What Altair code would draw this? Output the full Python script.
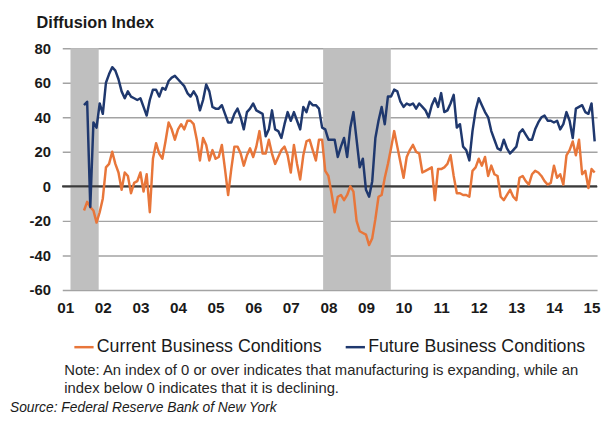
import altair as alt
import pandas as pd

# ---- data (monthly, Jul 2001 - Feb 2015) ----
first_month = "2001-07"
current = [
    -14, -9, -12, -14, -21, -15,
    -7, 11, 13, 20, 13, 8, -2, 8, 6, -4, 2, 3,
    8, -3, 7, -15, 16, 25, 19, 16, 26, 37, 33, 27,
    33, 36, 33, 38, 38, 36, 27, 15, 28, 24, 15, 21,
    16, 17, 24, 10, -5, 10, 23, 23, 19, 12, 18, 22,
    17, 23, 32, 19, 19, 27, 19, 13, 17, 21, 23, 18,
    8, 24, 13, 4, 18, 26, 27, 21, 15, 27, 27, 9,
    6, -4, -15, -6, -5, -8, -5, 0, -3, -20, -26, -27,
    -28, -34, -30, -19, -6, -5, 5, 13, 22, 32, 23, 14,
    5, 17, 21, 24, 20, 19, 8, 9, 10, 11, -8, 10,
    10, 11, 13, 18, 6, -4, -4, -5, -5, -6, 9, 11,
    16, 12, 17, 6, 12, 7, 6, -6, -8, -5, -2, -6,
    -8, 5, 6, 3, 1, 7, 9, 8, 6, 3, 1, 2,
    12, 5, 7, 1, 18, 21, 26, 18, 27, 7, 9, -1,
    10, 8,
]
future = [
    47, 49, -12, 37, 34, 48,
    42, 60, 65, 69, 67, 62, 55, 51, 55, 52, 51, 50,
    51, 46, 41, 50, 56, 56, 52, 57, 56, 61, 63, 64,
    62, 60, 58, 54, 52, 55, 52, 44, 50, 59, 55, 46,
    45, 45, 47, 42, 37, 37, 42, 45, 40, 33, 43, 45,
    48, 44, 43, 42, 29, 33, 44, 33, 32, 28, 36, 43,
    38, 43, 38, 33, 46, 43, 49, 47, 47, 45, 34, 33,
    27, 27, 27, 17, 23, 28, 17, 34, 43, 27, 11, 16,
    -2, -6, 3, 28, 38, 46, 36, 52, 52, 56, 55, 49,
    46, 48, 47, 48, 45, 48, 46, 44, 40, 47, 51, 46,
    54, 43, 44, 48, 53, 34, 36, 23, 21, 15, 32, 44,
    51, 47, 43, 40, 32, 27, 22, 21, 27, 22, 19, 21,
    23, 31, 33, 30, 27, 27, 33, 37, 40, 41, 38, 38,
    37, 38, 33, 36, 43, 38, 28, 45, 46, 47, 43, 42,
    48, 26,
]
series_names = ["Current Business Conditions", "Future Business Conditions"]
series_colors = ["#E8763A", "#1F386E"]

# recessions (decimal years, as shaded in the reference)
recession_start = [2001.14, 2007.86]
recession_end = [2001.89, 2009.66]

year_ticks = list(range(2001, 2016))
y_ticks = [-60, -40, -20, 0, 20, 40, 60, 80]

title_text = "Diffusion Index"
note_lines = [
    "Note: An index of 0 or over indicates that manufacturing is expanding, while an",
    "index below 0 indicates that it is declining.",
]
source_text = "Source: Federal Reserve Bank of New York"

# ---- build tables ----
n = len(current)
months = pd.period_range(first_month, periods=n, freq="M")
t = [p.year + (p.month - 1) / 12 for p in months]
df = pd.DataFrame({
    "t": t + t,
    "value": current + future,
    "series": [series_names[0]] * n + [series_names[1]] * n,
})
rec = pd.DataFrame({"start": recession_start, "end": recession_end})

FONT = "Liberation Sans"
xscale = alt.Scale(domain=[2000.9213, 2015.147], nice=False, zero=False)
yscale = alt.Scale(domain=[-60, 80], nice=False, zero=False)
xaxis = alt.Axis(title=None, values=year_ticks, tickCount=40, format="d",
                 labelExpr="substring(datum.label, 2)",
                 labelFont=FONT, labelFontSize=15.5, labelFontWeight="bold",
                 labelColor="#1a1a1a", labelPadding=11, labelFlush=False,
                 labelOverlap=False, ticks=False, domain=False, grid=False)
yaxis = alt.Axis(title=None, values=y_ticks, tickCount=20, labelFont=FONT,
                 labelExpr="toString(datum.value)",
                 labelFontSize=15, labelFontWeight="bold", labelColor="#1a1a1a",
                 labelPadding=12, labelOverlap=False, labelFlush=False,
                 labelBound=False, ticks=False, domain=False, grid=True,
                 gridColor="#A3A3A3", gridWidth=1.5)

shade = alt.Chart(rec).mark_rect(color="#BFBFBF").encode(
    x=alt.X("start:Q", scale=xscale, axis=xaxis),
    x2="end:Q",
    y=alt.datum(80, scale=yscale, axis=yaxis),
    y2=alt.datum(-60),
)

zero = alt.Chart(rec).mark_rule(color="#3a3a3a", strokeWidth=1.6).encode(
    y=alt.datum(0)
)

lines = alt.Chart(df).mark_line(strokeWidth=2.5, strokeJoin="round").encode(
    x=alt.X("t:Q", scale=xscale, axis=xaxis),
    y=alt.Y("value:Q", scale=yscale, axis=yaxis),
    color=alt.Color(
        "series:N",
        scale=alt.Scale(domain=series_names, range=series_colors),
        sort=series_names,
        legend=alt.Legend(
            title=None, orient="none", legendX=11, legendY=292,
            direction="horizontal", symbolType="stroke", symbolSize=380,
            symbolStrokeWidth=2.5, labelFont=FONT, labelFontSize=18,
            labelColor="#1a1a1a", labelLimit=400, labelOffset=2,
            columnPadding=18, padding=0, symbolOffset=0,
        ),
    ),
    detail="series:N",
)


def text_layer(txt, x, y, size, weight="normal", style="normal", color="#1a1a1a"):
    return alt.Chart(pd.DataFrame({"txt": [txt]})).mark_text(
        align="left", baseline="middle", font=FONT, fontSize=size,
        fontWeight=weight, fontStyle=style, color=color,
    ).encode(text="txt:N", x=alt.value(x), y=alt.value(y))


title = text_layer(title_text, -26, -25, 16.5, weight="bold")
note1 = text_layer(note_lines[0], 2, 326, 15, color="#262626")
note2 = text_layer(note_lines[1], 2, 344, 15, color="#262626")
source = text_layer(source_text, -53, 365, 14, style="italic", color="#1a1a1a")

chart = alt.layer(shade, zero, lines, title, note1, note2, source).properties(
    width=542, height=245,
    padding={"left": 55, "top": 38, "right": 5, "bottom": 125},
    autosize=alt.AutoSizeParams(type="none"),
).configure_view(stroke=None)

chart.save("out.html", embed_options={"renderer": "svg", "actions": False})
